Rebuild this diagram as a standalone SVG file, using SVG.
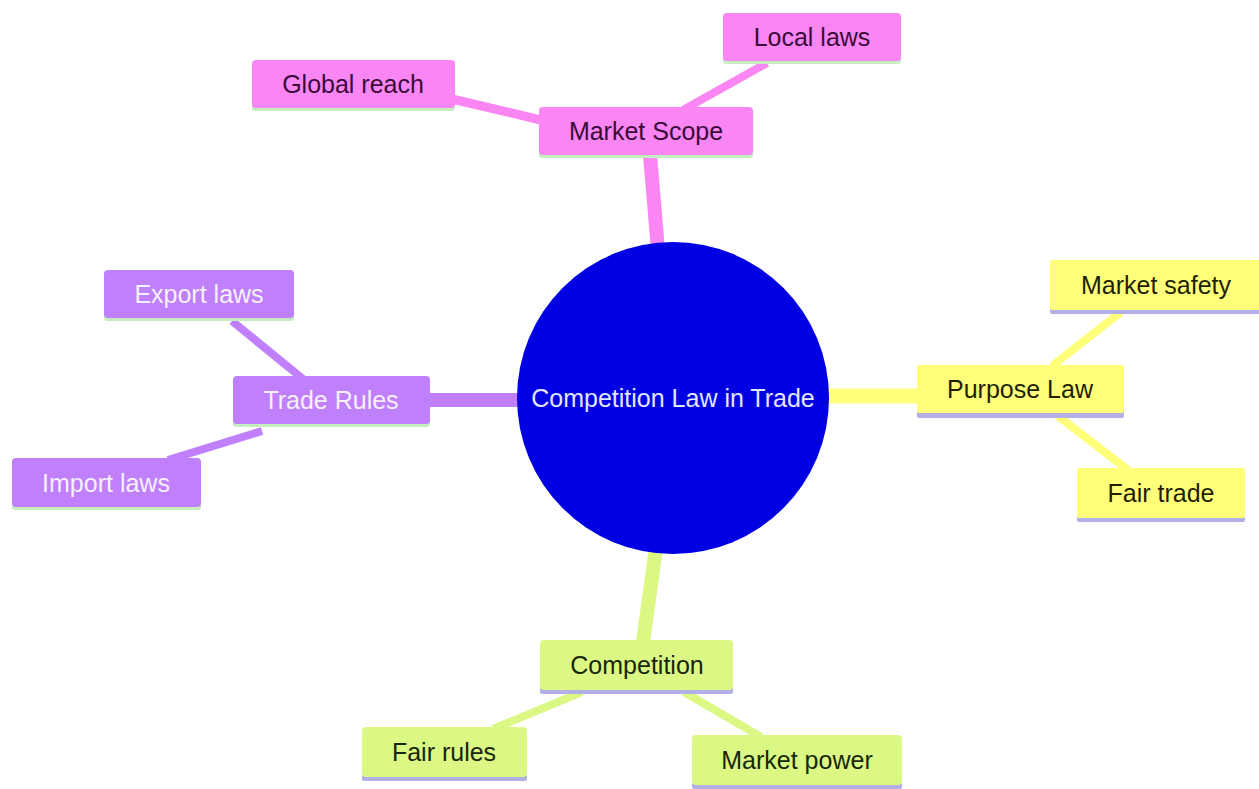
<svg xmlns="http://www.w3.org/2000/svg" width="1259" height="789" viewBox="0 0 1259 789">
<style>
.t{font-family:"Liberation Sans",Arial,sans-serif;font-size:25px;text-anchor:middle;dominant-baseline:central}
.pk{fill:#f986f3}.pu{fill:#c080fb}.ye{fill:#ffff7a}.gr{fill:#dbf884}
.sg{fill:#c6edbf}.sl{fill:#b3b0e6}
.tpk{fill:#3a0a3a}.tpu{fill:#f7f0fd}.tye{fill:#1f1f05}.tgr{fill:#17270a}
.e{fill:none;stroke-linecap:butt}
.epk{stroke:#f986f3}.epu{stroke:#c080fb}.eye{stroke:#ffff7a}.egr{stroke:#dbf884}
</style>
<rect width="1259" height="789" fill="#ffffff"/>
<g id="connectors">
<line class="e epk" x1="658" y1="250" x2="650" y2="155" stroke-width="14"/>
<line class="e epk" x1="545" y1="121" x2="452" y2="99" stroke-width="9"/>
<line class="e epk" x1="683" y1="110" x2="767" y2="63" stroke-width="8"/>
<line class="e epu" x1="522" y1="400" x2="428" y2="400" stroke-width="14"/>
<line class="e epu" x1="303" y1="379" x2="232" y2="321" stroke-width="8"/>
<line class="e epu" x1="262" y1="431" x2="168" y2="460" stroke-width="8"/>
<line class="e eye" x1="825" y1="396" x2="919" y2="396" stroke-width="15"/>
<line class="e eye" x1="1052" y1="366" x2="1121" y2="312" stroke-width="8"/>
<line class="e eye" x1="1058" y1="416" x2="1128" y2="470" stroke-width="8"/>
<line class="e egr" x1="656" y1="548" x2="643" y2="642" stroke-width="14"/>
<line class="e egr" x1="582" y1="692" x2="493" y2="729" stroke-width="8"/>
<line class="e egr" x1="684" y1="692" x2="761" y2="737" stroke-width="8"/>
</g>
<g id="center">
<circle cx="673" cy="398" r="156" fill="#0000e2"/>
<text class="t" x="673" y="398" fill="#e2e6ff">Competition Law in Trade</text>
</g>
<g id="market-scope">
<rect class="sg" x="539" y="150" width="214" height="8" rx="3"/>
<rect class="pk" x="539" y="107" width="214" height="48" rx="4"/>
<text class="t tpk" x="646" y="131">Market Scope</text>
</g>
<g id="local-laws">
<rect class="sg" x="723" y="56" width="178" height="8" rx="3"/>
<rect class="pk" x="723" y="13" width="178" height="48" rx="4"/>
<text class="t tpk" x="812" y="37">Local laws</text>
</g>
<g id="global-reach">
<rect class="sg" x="252" y="103" width="203" height="8" rx="3"/>
<rect class="pk" x="252" y="60" width="203" height="48" rx="4"/>
<text class="t tpk" x="353" y="84">Global reach</text>
</g>
<g id="trade-rules">
<rect class="sg" x="233" y="419" width="197" height="8" rx="3"/>
<rect class="pu" x="233" y="376" width="197" height="48" rx="4"/>
<text class="t tpu" x="331" y="400">Trade Rules</text>
</g>
<g id="export-laws">
<rect class="sg" x="104" y="313" width="190" height="8" rx="3"/>
<rect class="pu" x="104" y="270" width="190" height="48" rx="4"/>
<text class="t tpu" x="199" y="294">Export laws</text>
</g>
<g id="import-laws">
<rect class="sg" x="12" y="502" width="189" height="8" rx="3"/>
<rect class="pu" x="12" y="458" width="189" height="49" rx="4"/>
<text class="t tpu" x="106" y="483">Import laws</text>
</g>
<g id="purpose-law">
<rect class="sl" x="917" y="410" width="207" height="8" rx="2"/>
<rect class="ye" x="917" y="365" width="207" height="48" rx="2"/>
<text class="t tye" x="1020" y="389">Purpose Law</text>
</g>
<g id="market-safety">
<rect class="sl" x="1050" y="307" width="212" height="7" rx="2"/>
<rect class="ye" x="1050" y="260" width="212" height="50" rx="2"/>
<text class="t tye" x="1156" y="285">Market safety</text>
</g>
<g id="fair-trade">
<rect class="sl" x="1077" y="515" width="168" height="7" rx="2"/>
<rect class="ye" x="1077" y="468" width="168" height="50" rx="2"/>
<text class="t tye" x="1161" y="493">Fair trade</text>
</g>
<g id="competition">
<rect class="sl" x="540" y="687" width="193" height="7" rx="2"/>
<rect class="gr" x="540" y="640" width="193" height="50" rx="4"/>
<text class="t tgr" x="637" y="665">Competition</text>
</g>
<g id="fair-rules">
<rect class="sl" x="362" y="774" width="165" height="7" rx="2"/>
<rect class="gr" x="362" y="727" width="165" height="50" rx="4"/>
<text class="t tgr" x="444" y="752">Fair rules</text>
</g>
<g id="market-power">
<rect class="sl" x="692" y="782" width="210" height="7" rx="2"/>
<rect class="gr" x="692" y="735" width="210" height="50" rx="4"/>
<text class="t tgr" x="797" y="760">Market power</text>
</g>
</svg>
